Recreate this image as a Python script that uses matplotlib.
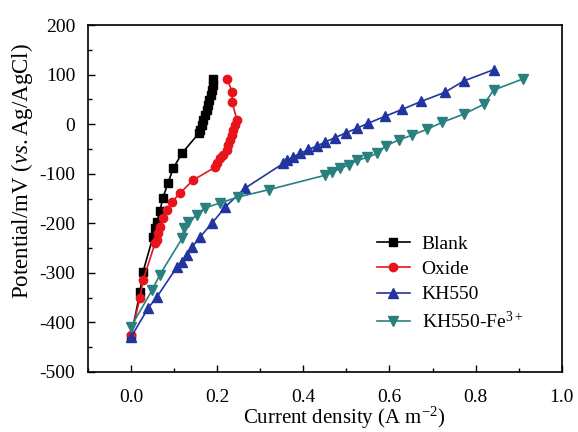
import numpy as np
import matplotlib
matplotlib.use('Agg')
import matplotlib.pyplot as plt
from matplotlib.ticker import MultipleLocator

plt.rcParams['font.family'] = 'Liberation Serif'
plt.rcParams['mathtext.fontset'] = 'custom'
plt.rcParams['mathtext.rm'] = 'Liberation Serif'
plt.rcParams['mathtext.it'] = 'Liberation Serif:italic'
plt.rcParams['axes.unicode_minus'] = False

# Data
blank_x = [0.0, 0.021, 0.028, 0.051, 0.056, 0.060, 0.067, 0.074, 0.086, 0.098, 0.119,
           0.158, 0.160, 0.165, 0.167, 0.172, 0.177, 0.179, 0.181, 0.186, 0.188, 0.190, 0.190]
blank_y = [-430, -339, -298, -228, -210, -198, -176, -149, -119, -89, -58,
           -18, -12, -2, 8, 18, 28, 38, 48, 58, 69, 79, 91]

oxide_x = [0.0, 0.021, 0.028, 0.056, 0.060, 0.063, 0.067, 0.074, 0.084, 0.095, 0.114,
           0.144, 0.195, 0.200, 0.207, 0.214, 0.223, 0.226, 0.230, 0.235, 0.237, 0.242,
           0.246, 0.235, 0.235, 0.223]
oxide_y = [-425, -351, -315, -240, -234, -220, -208, -190, -173, -157, -139,
           -113, -87, -79, -69, -62, -52, -42, -32, -22, -12, -2,
           8, 44, 65, 92]

kh_x = [0.0, 0.040, 0.060, 0.107, 0.119, 0.130, 0.142, 0.160, 0.188, 0.219, 0.265,
        0.354, 0.362, 0.377, 0.393, 0.412, 0.432, 0.451, 0.474, 0.498, 0.525, 0.551,
        0.590, 0.630, 0.674, 0.728, 0.772, 0.842]
kh_y = [-430, -371, -349, -288, -278, -264, -248, -228, -200, -167, -129,
        -79, -73, -66, -59, -51, -44, -36, -27, -18, -8, 2,
        16, 30, 46, 64, 87, 110]

fe_x = [0.0, 0.049, 0.067, 0.119, 0.123, 0.133, 0.153, 0.172, 0.207, 0.249, 0.321,
        0.451, 0.467, 0.486, 0.505, 0.525, 0.549, 0.572, 0.591, 0.621, 0.653, 0.688,
        0.723, 0.772, 0.819, 0.842, 0.909]
fe_y = [-409, -335, -304, -230, -210, -198, -183, -169, -159, -147, -132,
        -103, -97, -89, -83, -73, -67, -59, -44, -32, -22, -10,
        4, 20, 40, 69, 91]

fig = plt.figure(figsize=(5.78, 4.32), dpi=100)
ax = fig.add_axes([0.152, 0.139, 0.82, 0.803])

ax.plot(blank_x, blank_y, '-s', color='black', ms=5.5, lw=1.2, label='Blank')
ax.plot(oxide_x, oxide_y, '-o', color='#e8141b', ms=6, lw=1.2, label='Oxide')
ax.plot(kh_x, kh_y, '-^', color='#2234a0', ms=6.5, lw=1.2, label='KH550')
ax.plot(fe_x, fe_y, '-v', color='#2a7f7f', ms=6.5, lw=1.2, label='KH550-Fe$^{3+}$')

ax.set_xlim(-0.1, 1.0)
ax.set_ylim(-500, 200)
ax.xaxis.set_minor_locator(MultipleLocator(0.1))
ax.yaxis.set_major_locator(MultipleLocator(100))
ax.yaxis.set_minor_locator(MultipleLocator(50))
ax.set_xticks(np.arange(0, 1.01, 0.2))
ax.set_xticklabels(['0.0', '0.2', '0.4', '0.6', '0.8', '1.0'])
ax.tick_params(which='both', direction='in', labelsize=14, top=False, right=False)
ax.tick_params(which='major', length=5, width=1)
ax.tick_params(which='minor', length=3, width=1)
ax.tick_params(axis='x', which='major', pad=12)
ax.tick_params(axis='y', which='major', pad=9)
for s in ax.spines.values():
    s.set_linewidth(1.2)

ax.set_xlabel('Current density (A m$^{-2}$)', fontsize=15)
ax.set_ylabel('Potential/mV ($\\mathit{vs.}$Ag/AgCl)', fontsize=16.5)
ax.xaxis.set_label_coords(0.54, -0.094)
ax.yaxis.set_label_coords(-0.112, 0.58)

ax.legend(loc='upper left', bbox_to_anchor=(0.61, 0.395), frameon=False, fontsize=14,
          handlelength=1.7, labelspacing=0.4, borderpad=0, borderaxespad=0,
          handletextpad=0.6)

fig.savefig('out.png', dpi=100)
